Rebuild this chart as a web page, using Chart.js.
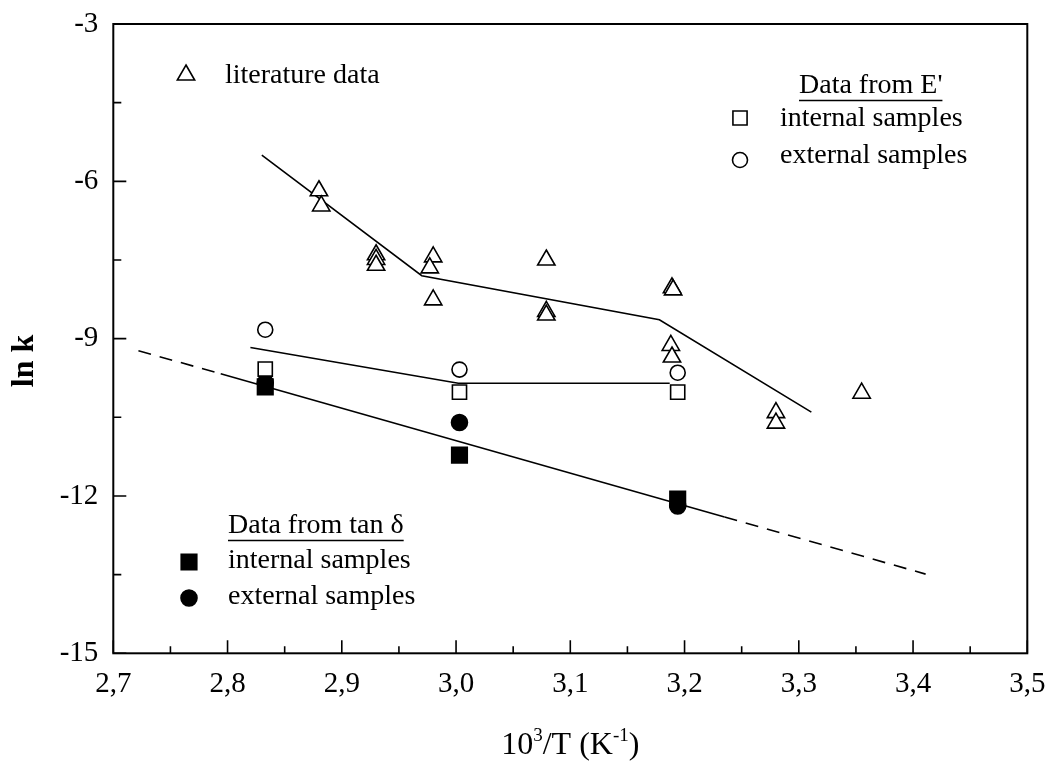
<!DOCTYPE html>
<html>
<head>
<meta charset="utf-8">
<title>ln k vs 10^3/T</title>
<script src="https://cdn.jsdelivr.net/npm/chart.js@4.4.1/dist/chart.umd.min.js"></script>
<style>
  html, body { margin: 0; padding: 0; background: #fff; }
  #wrap { width: 1046px; height: 763px; }
</style>
</head>
<body>
<div id="wrap"><canvas id="arrheniusChart" width="1046" height="763"></canvas></div>
<script>
const SERIF = "'Liberation Serif', 'Times New Roman', serif";

// literature data (open triangles)
const litX = [2.880, 2.882, 2.930, 2.930, 2.930, 2.980, 2.977, 2.980, 3.079, 3.079, 3.079, 3.189, 3.190, 3.188, 3.189, 3.280, 3.280, 3.355];
const litY = [-6.18, -6.47, -7.40, -7.49, -7.60, -7.44, -7.65, -8.26, -7.50, -8.48, -8.55, -8.03, -8.07, -9.13, -9.35, -10.41, -10.61, -10.04];

// own samples, measured at three temperatures
const sampleX = [2.833, 3.003, 3.194];
const eInternalY = [-9.58, -10.02, -10.02];
const eExternalY = [-8.83, -9.59, -9.65];
const tanInternalY = [-9.92, -11.22, -12.06];
const tanExternalY = [-9.84, -10.60, -12.19];

// fitted lines
const litFitX = [2.830, 2.970, 3.178, 3.311];
const litFitY = [-5.50, -7.80, -8.64, -10.40];
const eFitX = [2.820, 3.002, 3.187];
const eFitY = [-9.17, -9.85, -9.85];
const tanFitX = [2.794, 3.235];
const tanFitY = [-9.67, -12.40];
const tanLeftX = [2.722, 2.794];
const tanLeftY = [-9.23, -9.67];
const tanRightX = [3.235, 3.411];
const tanRightY = [-12.40, -13.49];

// axes
const xMajorTicks = [2.7, 2.8, 2.9, 3.0, 3.1, 3.2, 3.3, 3.4, 3.5];
const yMajorTicks = [-15, -12, -9, -6, -3];

function toPoints(xs, ys) {
  return xs.map((x, i) => ({ x, y: ys[i] }));
}

function isMajor(list, value) {
  return list.some(v => Math.abs(v - value) < 1e-6);
}

function markerSet(label, xs, ys, style, radius, fill) {
  return {
    label,
    data: toPoints(xs, ys),
    showLine: false,
    pointStyle: style,
    pointRadius: radius,
    pointHoverRadius: radius,
    pointBackgroundColor: fill,
    pointBorderColor: "#000",
    pointBorderWidth: 1.6,
    order: 1
  };
}

function lineSet(label, xs, ys, dash) {
  return {
    label,
    data: toPoints(xs, ys),
    showLine: true,
    borderColor: "#000",
    borderWidth: 1.6,
    borderDash: dash || [],
    pointRadius: 0,
    pointHoverRadius: 0,
    fill: false,
    order: 5
  };
}

function drawMarker(ctx, style, cx, cy, r, filled) {
  ctx.beginPath();
  if (style === "triangle") {
    let rad = 0;
    for (let i = 0; i < 3; i++) {
      const px = cx + Math.sin(rad) * r;
      const py = cy - Math.cos(rad) * r;
      if (i === 0) ctx.moveTo(px, py); else ctx.lineTo(px, py);
      rad += Math.PI * 2 / 3;
    }
    ctx.closePath();
  } else if (style === "rect") {
    const s = r * Math.SQRT1_2;
    ctx.rect(cx - s, cy - s, 2 * s, 2 * s);
  } else {
    ctx.arc(cx, cy, r, 0, Math.PI * 2);
  }
  ctx.fillStyle = filled ? "#000" : "#fff";
  ctx.fill();
  ctx.stroke();
}

function underlined(ctx, text, x, y, lineY) {
  ctx.fillText(text, x, y);
  const w = ctx.measureText(text).width;
  ctx.beginPath();
  ctx.moveTo(x, lineY);
  ctx.lineTo(x + w, lineY);
  ctx.stroke();
}

const decorPlugin = {
  id: "decor",
  afterDraw(chart) {
    const { ctx, chartArea: a, scales: { x, y } } = chart;
    ctx.save();
    ctx.strokeStyle = "#000";
    ctx.fillStyle = "#000";

    // frame
    ctx.lineWidth = 2;
    ctx.strokeRect(a.left, a.top, a.right - a.left, a.bottom - a.top);

    // inward ticks
    ctx.lineWidth = 1.6;
    ctx.beginPath();
    x.ticks.forEach(t => {
      const px = x.getPixelForValue(t.value);
      const len = isMajor(xMajorTicks, t.value) ? 13 : 7;
      ctx.moveTo(px, a.bottom);
      ctx.lineTo(px, a.bottom - len);
    });
    y.ticks.forEach(t => {
      const py = y.getPixelForValue(t.value);
      const len = isMajor(yMajorTicks, t.value) ? 13 : 8;
      ctx.moveTo(a.left, py);
      ctx.lineTo(a.left + len, py);
    });
    ctx.stroke();

    // y title
    ctx.save();
    ctx.translate(25, 361);
    ctx.rotate(-Math.PI / 2);
    ctx.font = "bold 32px " + SERIF;
    ctx.textAlign = "center";
    ctx.textBaseline = "middle";
    ctx.fillText("ln k", 0, 0);
    ctx.restore();

    // x title with superscripts
    const parts = [["10", false], ["3", true], ["/T (K", false], ["-1", true], [")", false]];
    const big = "32px " + SERIF;
    const small = "19px " + SERIF;
    let total = 0;
    parts.forEach(([t, sup]) => {
      ctx.font = sup ? small : big;
      total += ctx.measureText(t).width;
    });
    let cx = (a.left + a.right) / 2 - total / 2;
    ctx.textAlign = "left";
    ctx.textBaseline = "alphabetic";
    parts.forEach(([t, sup]) => {
      ctx.font = sup ? small : big;
      ctx.fillText(t, cx, sup ? 741 : 754);
      cx += ctx.measureText(t).width;
    });

    // legends
    ctx.font = "28px " + SERIF;
    ctx.lineWidth = 1.6;
    drawMarker(ctx, "triangle", 186, 75, 10, false);
    ctx.fillStyle = "#000";
    ctx.fillText("literature data", 225, 83);

    ctx.lineWidth = 1.4;
    underlined(ctx, "Data from E'", 799, 93, 100.5);
    ctx.lineWidth = 1.6;
    drawMarker(ctx, "rect", 740, 118, 10, false);
    drawMarker(ctx, "circle", 740, 160, 7.5, false);
    ctx.fillStyle = "#000";
    ctx.fillText("internal samples", 780, 126);
    ctx.fillText("external samples", 780, 163);

    ctx.lineWidth = 1.4;
    underlined(ctx, "Data from tan \u03b4", 228, 533, 540.5);
    ctx.lineWidth = 1.6;
    drawMarker(ctx, "rect", 189, 562, 11, true);
    drawMarker(ctx, "circle", 189, 598, 8, true);
    ctx.fillStyle = "#000";
    ctx.fillText("internal samples", 228, 568);
    ctx.fillText("external samples", 228, 604);

    ctx.restore();
  }
};

function renderChart() {
  const ctx = document.getElementById("arrheniusChart").getContext("2d");

  new Chart(ctx, {
    type: "scatter",
    data: {
      datasets: [
        markerSet("literature data", litX, litY, "triangle", 10, "#fff"),
        markerSet("E' internal samples", sampleX, eInternalY, "rect", 10, "#fff"),
        markerSet("E' external samples", sampleX, eExternalY, "circle", 7.5, "#fff"),
        markerSet("tan \u03b4 internal samples", sampleX, tanInternalY, "rect", 11, "#000"),
        markerSet("tan \u03b4 external samples", sampleX, tanExternalY, "circle", 8, "#000"),
        lineSet("literature fit", litFitX, litFitY),
        lineSet("E' fit", eFitX, eFitY),
        lineSet("tan \u03b4 fit", tanFitX, tanFitY),
        lineSet("tan \u03b4 fit (extrapolated, low)", tanLeftX, tanLeftY, [13, 9]),
        lineSet("tan \u03b4 fit (extrapolated, high)", tanRightX, tanRightY, [13, 9])
      ]
    },
    options: {
      responsive: false,
      animation: false,
      devicePixelRatio: 1,
      layout: {
        padding: { top: 24, right: 18.7, left: 0, bottom: 0 }
      },
      plugins: {
        legend: { display: false },
        tooltip: { enabled: false }
      },
      scales: {
        x: {
          type: "linear",
          min: 2.7,
          max: 3.5,
          grid: { display: false, drawTicks: false },
          border: { display: false },
          ticks: {
            stepSize: 0.05,
            autoSkip: false,
            maxRotation: 0,
            padding: 14,
            color: "#000",
            font: { family: SERIF, size: 29 },
            callback: value => isMajor(xMajorTicks, value) ? value.toFixed(1).replace(".", ",") : ""
          },
          afterFit: scale => {
            scale.height = 109.7;
            scale.paddingLeft = 0;
            scale.paddingRight = 0;
          }
        },
        y: {
          type: "linear",
          min: -15,
          max: -3,
          grid: { display: false, drawTicks: false },
          border: { display: false },
          ticks: {
            stepSize: 1.5,
            autoSkip: false,
            padding: 15,
            color: "#000",
            font: { family: SERIF, size: 29 },
            callback: value => isMajor(yMajorTicks, value) ? String(value) : ""
          },
          afterFit: scale => {
            scale.width = 113.3;
            scale.paddingTop = 0;
            scale.paddingBottom = 0;
          }
        }
      }
    },
    plugins: [decorPlugin]
  });
}

document.addEventListener("DOMContentLoaded", renderChart);
</script>
</body>
</html>
